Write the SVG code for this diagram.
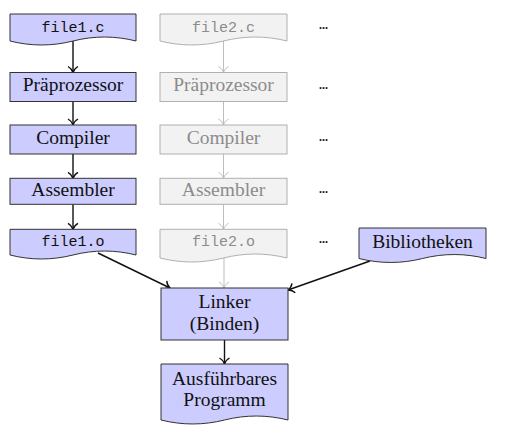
<svg xmlns="http://www.w3.org/2000/svg" width="511" height="447" viewBox="0 0 511 447">
<style>
.n{fill:#ccccff;stroke:#333;stroke-width:1}
.g{fill:#f2f2f2;stroke:#b0b0b0;stroke-width:1}
.t{font-family:"Liberation Serif","Times New Roman",serif;font-size:19.5px;fill:#111;text-anchor:middle}
.m{font-family:"Liberation Mono","Courier New",monospace;font-size:15px;fill:#111;text-anchor:middle}
.gt{fill:#8c8c8c}
.d{font-family:"Liberation Serif",serif;font-size:12px;font-weight:bold;fill:#111;text-anchor:middle}
.c{stroke:#111;stroke-width:1.4;fill:none;marker-end:url(#to)}
.cg{stroke:#bdbdbd;stroke-width:1;fill:none;marker-end:url(#tog)}
</style>
<defs>
<marker id="to" viewBox="-8 -7 9 14" markerWidth="9" markerHeight="14" refX="0" refY="0" orient="auto" markerUnits="userSpaceOnUse">
<path d="M-6,-5 C-4.5,-2.2 -1.6,-0.5 0,0 C-1.6,0.5 -4.5,2.2 -6,5" fill="none" stroke="#111" stroke-width="1.4"/>
</marker>
<marker id="tog" viewBox="-8 -7 9 14" markerWidth="9" markerHeight="14" refX="0" refY="0" orient="auto" markerUnits="userSpaceOnUse">
<path d="M-6,-5 C-4.5,-2.2 -1.6,-0.5 0,0 C-1.6,0.5 -4.5,2.2 -6,5" fill="none" stroke="#bdbdbd" stroke-width="1"/>
</marker>
</defs>

<g id="connectors">
<line class="c" x1="73" y1="41" x2="73" y2="72.5"/>
<line class="c" x1="73" y1="101.5" x2="73" y2="125"/>
<line class="c" x1="73" y1="154" x2="73" y2="178.3"/>
<line class="c" x1="73" y1="204.3" x2="73" y2="229.3"/>
<line class="cg" x1="223.5" y1="41" x2="223.5" y2="72.5"/>
<line class="cg" x1="223.5" y1="101.5" x2="223.5" y2="125"/>
<line class="cg" x1="223.5" y1="154" x2="223.5" y2="178.3"/>
<line class="cg" x1="223.5" y1="204.3" x2="223.5" y2="229.3"/>
<line class="cg" x1="224" y1="258" x2="224" y2="288"/>
<line class="c" x1="98" y1="253" x2="170" y2="288"/>
<line class="c" x1="370" y1="261" x2="288" y2="290"/>
<line class="c" x1="224.5" y1="340" x2="224.5" y2="364"/>
</g>

<g id="file1c">
<path class="n" d="M10,14 H136 V41 C115,35.7 94,35.7 73,41 C52,46.3 31,46.3 10,41 Z"/>
<text class="m" x="73" y="32">file1.c</text>
</g>
<g id="prep1">
<rect class="n" x="10" y="72.5" width="126" height="29"/>
<text class="t" x="73" y="91">Präprozessor</text>
</g>
<g id="comp1">
<rect class="n" x="10" y="125" width="126" height="29"/>
<text class="t" x="73" y="144.3">Compiler</text>
</g>
<g id="asm1">
<rect class="n" x="10" y="178.3" width="126" height="26"/>
<text class="t" x="73" y="196">Assembler</text>
</g>
<g id="file1o">
<path class="n" d="M10,229.3 H136 V255 C115,249.7 94,249.7 73,255 C52,260.3 31,260.3 10,255 Z"/>
<text class="m" x="73" y="246">file1.o</text>
</g>

<g id="file2c">
<path class="g" d="M160,14 H287 V41 C265.8,35.7 244.7,35.7 223.5,41 C202.3,46.3 181.2,46.3 160,41 Z"/>
<text class="m gt" x="223.5" y="32">file2.c</text>
</g>
<g id="prep2">
<rect class="g" x="160" y="72.5" width="127" height="29"/>
<text class="t gt" x="223.5" y="91">Präprozessor</text>
</g>
<g id="comp2">
<rect class="g" x="160" y="125" width="127" height="29"/>
<text class="t gt" x="223.5" y="144.3">Compiler</text>
</g>
<g id="asm2">
<rect class="g" x="160" y="178.3" width="127" height="26"/>
<text class="t gt" x="223.5" y="196">Assembler</text>
</g>
<g id="file2o">
<path class="g" d="M160,229.3 H287 V258 C265.8,252.7 244.7,252.7 223.5,258 C202.3,263.3 181.2,263.3 160,258 Z"/>
<text class="m gt" x="223.5" y="246">file2.o</text>
</g>

<g id="dots">
<text class="d" x="323.5" y="29">...</text>
<text class="d" x="323.5" y="89">...</text>
<text class="d" x="323.5" y="141">...</text>
<text class="d" x="323.5" y="193">...</text>
<text class="d" x="323.5" y="243">...</text>
</g>

<g id="bibliotheken">
<path class="n" d="M359,228 H486 V258.5 C464.8,253.2 443.7,253.2 422.5,258.5 C401.3,263.8 380.2,263.8 359,258.5 Z"/>
<text class="t" x="422.5" y="248">Bibliotheken</text>
</g>
<g id="linker">
<rect class="n" x="161" y="288" width="127" height="52"/>
<text class="t" x="224.5" y="308">Linker</text>
<text class="t" x="224.5" y="330">(Binden)</text>
</g>
<g id="programm">
<path class="n" d="M161,364 H288 V420 C266.8,414.7 245.7,414.7 224.5,420 C203.3,425.3 182.2,425.3 161,420 Z"/>
<text class="t" x="224.5" y="385">Ausführbares</text>
<text class="t" x="224.5" y="406">Programm</text>
</g>
</svg>
